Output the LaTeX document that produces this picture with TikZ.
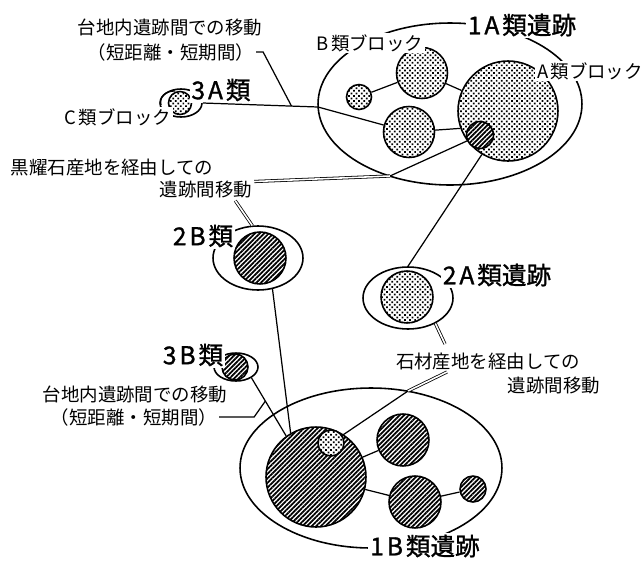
\documentclass[tikz,border=0pt]{standalone}
\usepackage{fontspec}
\setmainfont{Noto Sans CJK JP}
\newfontfamily\heavyjp[FakeBold=1.2]{Noto Sans CJK JP}
\usetikzlibrary{shapes.geometric, patterns.meta, positioning}
\tikzstyle{site} = [ellipse, draw=black, line width=0.9pt, inner sep=0pt]
\tikzstyle{stip} = [circle, draw=black, line width=0.9pt, inner sep=0pt, preaction={fill=white}, pattern={Dots[radius=0.7pt, distance=2.05pt, angle=45]}]
\tikzstyle{hatch} = [circle, draw=black, line width=0.9pt, inner sep=0pt, preaction={fill=white}, pattern={Lines[angle=45, distance=1.85pt, line width=1pt]}]
\tikzstyle{note} = [fill=white, inner sep=1pt, font=\fontsize{10.5}{12}\selectfont]
\tikzstyle{typelabel} = [fill=white, inner sep=1pt, font=\fontsize{14}{16}\heavyjp]
\tikzstyle{tie} = [line width=0.7pt]
\tikzstyle{dline} = [double, double distance=0.9pt, line width=0.45pt]
\def\gap{\hspace{0.12em}}

\begin{document}
\begin{tikzpicture}[x=0.02cm, y=-0.02cm]
\useasboundingbox (0,0) rectangle (643,562);

% sites
\node (e1A) [site, minimum width=5.28cm, minimum height=3.24cm] at (450,104) {};
\node (e1B) [site, minimum width=5.24cm, minimum height=3.2cm] at (371,468) {};
\node (e2A) [site, minimum width=1.8cm, minimum height=1.24cm] at (408,298) {};
\node (e2B) [site, minimum width=1.8cm, minimum height=1.28cm] at (258,258) {};
\node (e3A) [site, minimum width=0.84cm, minimum height=0.56cm] at (181,103) {};
\node (e3B) [site, minimum width=0.88cm, minimum height=0.56cm] at (236,367) {};

% blocks
\node (sB1) [stip, minimum size=0.5cm] at (359,97) {};
\node (uB) [stip, minimum size=1.02cm] at (422,73) {};
\node (lB) [stip, minimum size=1.02cm] at (409,132) {};
\node (Ablk) [stip, minimum size=2cm] at (508,111) {};
\node (ah) [hatch, minimum size=0.54cm] at (480,135) {};
\node (c3A) [stip, minimum size=0.46cm] at (180,103) {};
\node (h2B) [hatch, minimum size=1.04cm] at (260,258) {};
\node (s2A) [stip, minimum size=1.04cm] at (407,297) {};
\node (h3B) [hatch, minimum size=0.52cm] at (235,367) {};
\node (hB) [hatch, minimum size=2cm] at (316,477) {};
\node (sp) [stip, minimum size=0.52cm] at (331,443) {};
\node (hur) [hatch, minimum size=1.04cm] at (403,440) {};
\node (hlr) [hatch, minimum size=1.04cm] at (415,502) {};
\node (htn) [hatch, minimum size=0.52cm] at (473,489) {};

% labels
\node (l1A) [typelabel] at (522,25) {1\gap A\gap 類遺跡};
\node (l1B) [typelabel] at (425,546) {1\gap B\gap 類遺跡};
\node (l2A) [typelabel] at (497,275) {2\gap A\gap 類遺跡};
\node (l2B) [typelabel] at (203,236) {2\gap B\gap 類};
\node (l3A) [typelabel] at (221,90) {3\gap A\gap 類};
\node (l3B) [typelabel] at (193,355) {3\gap B\gap 類};
\node (lBblk) [note] at (370,43) {B\gap 類ブロック};
\node (lAblk) [note] at (590,71) {A\gap 類ブロック};
\node (lCblk) [note] at (118,117) {C\gap 類ブロック};
\node (move1a) [note] at (170,27) {台地内遺跡間での移動};
\node (move1b) [note] at (171,52) {（短距離・短期間）};
\node (move2a) [note] at (135,394) {台地内遺跡間での移動};
\node (move2b) [note] at (134,417) {（短距離・短期間）};
\node (obs1) [note] at (112,168) {黒耀石産地を経由しての};
\node (obs2) [note] at (206,190) {遺跡間移動};
\node (st1) [note] at (488,362) {石材産地を経由しての};
\node (st2) [note] at (554,386) {遺跡間移動};

\coordinate (k1) at (318,107);
\coordinate (k2) at (390,176);
\coordinate (k3) at (408,391);
\coordinate (s1) at (445,344);
\coordinate (s2) at (447,372);

% routes
\draw [tie] (e3A.east) -- coordinate[pos=0.77] (t1) (k1) -- (lB);
\draw [tie] (move1b.east) -- ++(7,0) -- (t1);
\draw [tie] (161,105) .. controls (159,96) and (166,91) .. (175,91);
\draw [tie] (sB1) -- (uB);
\draw [tie] (uB) -- (Ablk);
\draw [tie] (lB) -- (Ablk.200);
\draw [tie] (e2A.north) -- (Ablk.-121);
\draw [dline] (obs2.10) -- (k2);
\draw [tie] (k2) -- (ah);
\draw [dline] (obs2.-20) -- (e2B.100);
\draw [tie] (e2B.-65) -- (hB.120);
\draw [tie] (e3B.-35) -- coordinate[pos=0.4] (t2) (hB.126);
\draw [tie] (move2b.east) -- ++(35,0) -- (t2);
\draw [dline] (e2A.-43) -- (s1);
\draw [dline] (s2) -- (k3);
\draw [tie] (k3) -- (sp);
\draw [tie] (hB) -- (hur);
\draw [tie] (hB) -- (hlr);
\draw [tie] (hlr) -- (htn);
\end{tikzpicture}
\end{document}
